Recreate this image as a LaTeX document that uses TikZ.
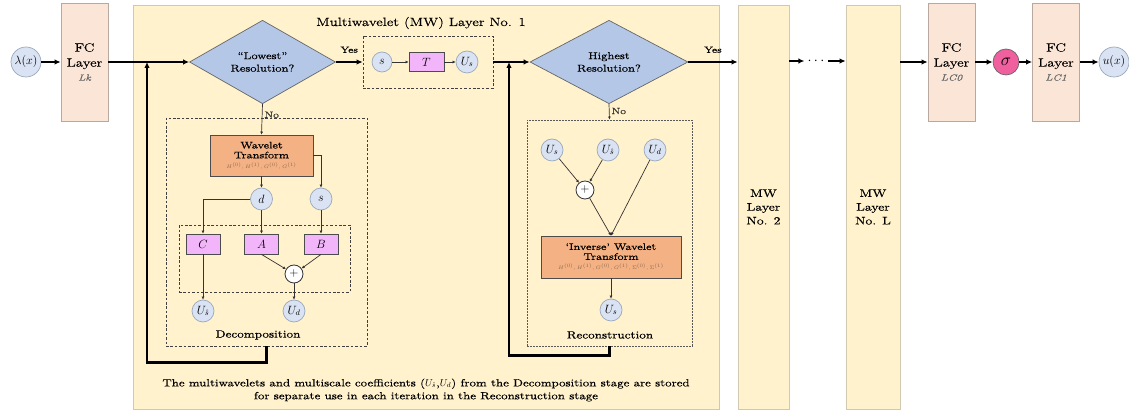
\documentclass[tikz,border=0pt]{standalone}
\usepackage{fontspec}
\setmainfont{Latin Modern Roman}[FakeStretch=1.25, FakeBold=0.3]
\usetikzlibrary{shapes.geometric,arrows.meta,calc}

\definecolor{mwyellow}{HTML}{FFF2CC}
\definecolor{mwedge}{HTML}{D0C8B0}
\definecolor{fcpink}{HTML}{FBE5D6}
\definecolor{fcedge}{HTML}{B8A8A0}
\definecolor{nodeblue}{HTML}{DAE3F3}
\definecolor{nodeedge}{HTML}{9AA8BC}
\definecolor{diablue}{HTML}{B4C7E7}
\definecolor{wtorange}{HTML}{F4B183}
\definecolor{opviolet}{HTML}{F2B5FA}
\definecolor{sigpink}{HTML}{F0609E}
\definecolor{subtxt}{HTML}{8A6A50}

\tikzset{
  fs/.style={font=\fontsize{#1}{\fpeval{#1*1.25}}\selectfont},
  mwbox/.style={draw=mwedge, fill=mwyellow, line width=0.8pt, inner sep=0pt},
  fcbox/.style={draw=fcedge, fill=fcpink, line width=0.8pt, minimum width=47pt,
    minimum height=118pt, align=center, inner sep=1pt, fs=12},
  circnode/.style={circle, draw=nodeedge, fill=nodeblue, line width=0.7pt,
    minimum size=22pt, inner sep=0pt, fs=12},
  plusnode/.style={circle, draw=black!80, fill=white, line width=0.8pt,
    minimum size=18pt, inner sep=0pt, fs=13},
  decision/.style={diamond, draw=black!60, fill=diablue, line width=0.7pt,
    inner sep=0pt, align=center, fs=10},
  wtbox/.style={draw=black!70, fill=wtorange, line width=0.8pt, align=center,
    inner sep=1pt, fs=9.5},
  opbox/.style={draw=black!70, fill=opviolet, line width=0.8pt, minimum width=34pt,
    minimum height=20pt, inner sep=0pt, fs=12},
  stage/.style={draw=black!75, dash pattern=on 2.6pt off 1.8pt, line width=0.8pt, inner sep=0pt},
  recstage/.style={draw=black!65, dash pattern=on 1.6pt off 1.4pt, line width=0.9pt, inner sep=0pt},
  mainflow/.style={line width=2.1pt, -{Latex[length=6pt,width=5.5pt]}},
  loopflow/.style={line width=2.3pt, -{Latex[length=6pt,width=5.5pt]}},
  subflow/.style={line width=0.7pt, black!80, -{Latex[length=3pt,width=3pt]}},
  lbl/.style={inner sep=0pt, fs=9},
}

\begin{document}
\begin{tikzpicture}[x=1pt,y=-1pt]
\useasboundingbox (0,0) rectangle (1129,411);

% ---------- Multiwavelet layer 1 (background) ----------
\node[mwbox, minimum width=586pt, minimum height=404pt] (mw1) at (426,207) {};
\node[fs=12, inner sep=0pt] (title) at (421,23) {Multiwavelet (MW) Layer No. 1};

% ---------- input side ----------
\node[circnode, minimum size=30pt] (lam) at (26,62) {$\lambda(x)$};
\node[fcbox] (fc1) at (84.5,62) {FC\\Layer\\[-1pt]{\fontsize{9}{10}\selectfont\itshape\color{black!60} Lk}};

% ---------- decisions ----------
\node[decision, minimum width=146pt, minimum height=69pt] (dia1) at (262.5,62) {``Lowest''\\Resolution?};
\node[decision, minimum width=158pt, minimum height=69pt] (dia2) at (609,62) {Highest\\Resolution?};

% ---------- coarsest scale block ----------
\node[stage, minimum width=130pt, minimum height=52pt] (lowbox) at (428,62) {};
\node[circnode, minimum size=20pt] (s0) at (382,62) {$s$};
\node[opbox, minimum width=35pt, minimum height=19pt] (tbox) at (426.5,62) {$T$};
\node[circnode] (us0) at (467,62) {$U_s$};
\draw[subflow] (s0) -- (tbox);
\draw[subflow] (tbox) -- (us0);

% ---------- decomposition ----------
\node[stage, minimum width=201pt, minimum height=228pt] (decomp) at (266.5,232) {};
\node[lbl, fs=10.5] (declbl) at (258,335) {Decomposition};
\node[wtbox, minimum width=103pt, minimum height=41pt] (wt) at (261.5,155.5)
  {Wavelet\\[-2pt]Transform\\[-2pt]{\color{subtxt}\fontsize{5.5}{6}\selectfont $H^{(0)}, H^{(1)}, G^{(0)}, G^{(1)}$}};
\node[circnode] (d) at (261.5,199) {$d$};
\node[circnode] (s1) at (321,199) {$s$};
\node[stage, minimum width=171pt, minimum height=67pt] (inner) at (264.5,258.5) {};
\node[opbox] (cbox) at (203,244) {$C$};
\node[opbox] (abox) at (261.5,244) {$A$};
\node[opbox] (bbox) at (321,244) {$B$};
\node[plusnode] (plus1) at (294,274) {$+$};
\node[circnode] (uhs) at (203,311) {$U_{\hat{s}}$};
\node[circnode] (ud) at (294,311) {$U_d$};

\draw[subflow] (dia1.south) -- (wt.north) node[pos=0.35, right=2pt, lbl] {No};
\draw[subflow] (wt) -- (d);
\draw[subflow] (wt.east) -| (s1.north);
\draw[subflow] (d.west) -| (cbox.north);
\draw[subflow] (d) -- (abox);
\draw[subflow] (s1) -- (bbox);
\draw[subflow] (abox.south) -- (plus1);
\draw[subflow] (bbox.south) -- (plus1);
\draw[subflow] (cbox) -- (uhs);
\draw[subflow] (plus1) -- (ud);

% ---------- reconstruction ----------
\node[recstage, minimum width=165pt, minimum height=226pt] (recon) at (609.5,233) {};
\node[lbl, fs=10.5] (reclbl) at (610,335) {Reconstruction};
\node[circnode] (ur1) at (552,150) {$U_s$};
\node[circnode] (ur2) at (608,150) {$U_{\hat{s}}$};
\node[circnode] (ur3) at (655,150) {$U_d$};
\node[plusnode] (plus2) at (585,190) {$+$};
\node[wtbox, minimum width=140pt, minimum height=42pt] (inv) at (611,257)
  {`Inverse' Wavelet\\[-2pt]Transform\\[-2pt]{\color{subtxt}\fontsize{5.5}{6}\selectfont $H^{(0)}, H^{(1)}, G^{(0)}, G^{(1)}, \Sigma^{(0)}, \Sigma^{(1)}$}};
\node[circnode] (uro) at (611,310) {$U_s$};

\draw[subflow] (dia2.south) -- (recon.north) node[pos=0.45, right=2pt, lbl] {No};
\draw[subflow] (ur1) -- (plus2);
\draw[subflow] (ur2) -- (plus2);
\draw[subflow] (plus2) -- (inv.north);
\draw[subflow] (ur3) -- (inv.north);
\draw[subflow] (inv) -- (uro);

% ---------- main flow and loops ----------
\coordinate (fb1) at (147,62);
\coordinate (fb2) at (509,62);
\draw[mainflow] (lam) -- (fc1);
\draw[mainflow] (fc1) -- (dia1);
\draw[mainflow] (dia1) -- (lowbox) node[midway, above=8pt, lbl] {Yes};
\draw[mainflow] (lowbox) -- (dia2);
\draw[loopflow] (decomp.south) -- ++(0,16) -| (fb1);
\draw[loopflow] (recon.south) -- ++(0,9) -| (fb2);

% ---------- further layers ----------
\node[mwbox, minimum width=51pt, minimum height=404pt, align=center, fs=11] (mw2) at (763.5,207) {MW\\Layer\\No. 2};
\node[mwbox, minimum width=54pt, minimum height=404pt, align=center, fs=11] (mwL) at (873,207) {MW\\Layer\\No. L};
\node[inner sep=3pt, fs=14] (dots) at (816,61) {$\cdots$};
\draw[mainflow] (dia2) -- (mw2.west |- dia2) node[midway, above=8pt, lbl] {Yes};
\draw[mainflow] (mw2.east |- dots) -- (dots);
\draw[mainflow] (dots) -- (mwL.west |- dots);

% ---------- output side ----------
\node[fcbox] (fc2) at (951.5,62) {FC\\Layer\\[-1pt]{\fontsize{9}{10}\selectfont\itshape\color{black!60} LC0}};
\node[circle, draw=black!60, fill=sigpink, line width=0.7pt, minimum size=26pt, inner sep=0pt, fs=16] (sig) at (1006,62) {$\sigma$};
\node[fcbox] (fc3) at (1056,62) {FC\\Layer\\[-1pt]{\fontsize{9}{10}\selectfont\itshape\color{black!60} LC1}};
\node[circnode, minimum size=30pt] (ux) at (1114,62) {$u(x)$};
\draw[mainflow] (mwL.east |- fc2) -- (fc2);
\draw[mainflow] (fc2) -- (sig);
\draw[mainflow] (sig) -- (fc3);
\draw[mainflow] (fc3) -- (ux);

% ---------- note ----------
\node[align=center, fs=10.3, inner sep=0pt] (note) at (426,390)
  {The multiwavelets and multiscale coefficients ($U_{\hat{s}}$,$U_d$) from the Decomposition stage are stored\\
   for separate use in each iteration in the Reconstruction stage};
\end{tikzpicture}
\end{document}
